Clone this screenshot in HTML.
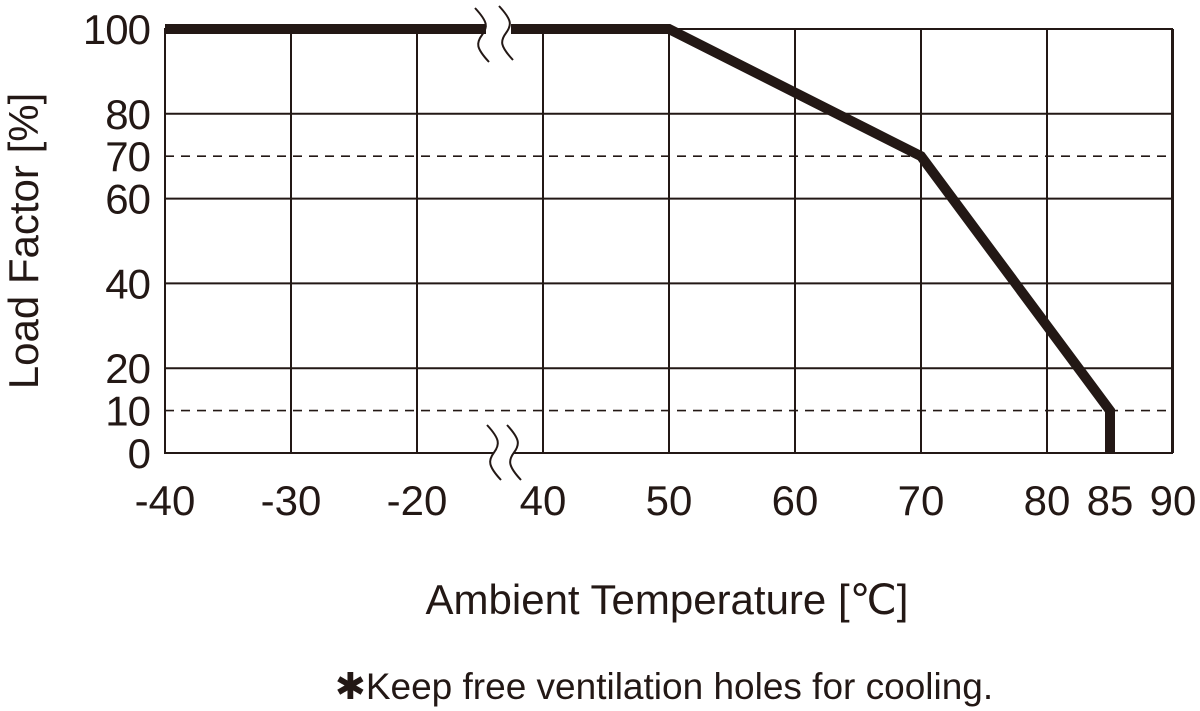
<!DOCTYPE html>
<html><head><meta charset="utf-8"><style>
html,body{margin:0;padding:0;background:#fff;width:1200px;height:711px;overflow:hidden}
text{font-family:"Liberation Sans",Arial,sans-serif;fill:#231815}
</style></head><body>
<svg id="chart" width="1200" height="711" viewBox="0 0 1200 711" xmlns="http://www.w3.org/2000/svg"></svg>
<script>
const xTicks = [-40, -30, -20, 40, 50, 60, 70, 80, 85, 90];
const xGrid = [-40, -30, -20, 40, 50, 60, 70, 80, 90];
const yTicks = [0, 10, 20, 40, 60, 70, 80, 100];
const yGrid = [20, 40, 60, 80];
const yDashed = [10, 70];
const curveTemps = [-40, 50, 70, 85, 85];
const curveLoads = [100, 100, 70, 10, 0];

const C = '#231815';
const NS = 'http://www.w3.org/2000/svg';
const svg = document.getElementById('chart');
const L = 165, R = 1172, T = 29, B = 453;
function xs(t){ return t <= -15 ? L + (t + 40) * 12.6 : 543 + (t - 40) * 12.6; }
function ys(v){ return B - v * (B - T) / 100; }
function mk(tag, attrs, parent){
  const e = document.createElementNS(NS, tag);
  for (const k in attrs) e.setAttribute(k, attrs[k]);
  (parent || svg).appendChild(e);
  return e;
}
const frame = mk('rect', {x:L, y:T, width:R-L, height:B-T, fill:'none', stroke:C, 'stroke-width':2});


xGrid.forEach(t => {
  const l = mk('line', {x1:xs(t), x2:xs(t), y1:T, y2:B, stroke:C, 'stroke-width':2});
  
  
});
yGrid.forEach(v => {
  const l = mk('line', {x1:L, x2:R, y1:ys(v), y2:ys(v), stroke:C, 'stroke-width':2});
  
  
});
yDashed.forEach(v => {
  const l = mk('line', {x1:L, x2:R, y1:ys(v), y2:ys(v), stroke:C, 'stroke-width':1.6, 'stroke-dasharray':'9 7'});
  
  
});
mk('rect', {x:494, y:B-3, width:20, height:6, fill:'#fff'});
const pts = curveTemps.map((t,i) => xs(t) + ',' + ys(curveLoads[i])).join(' ');
const curve = mk('polyline', {points:pts, fill:'none', stroke:C, 'stroke-width':10, 'stroke-linejoin':'miter'});


mk('rect', {x:486, y:T-7, width:25, height:14, fill:'#fff'});
function squig(x, y0, y1, name){
  const m = (y0 + y1) / 2;
  const p = mk('path', {d:`M${x-7},${y0} C${x+6},${y0+14} ${x+6},${m-8} ${x},${m} C${x-6},${m+8} ${x-6},${y1-14} ${x+7},${y1}`, fill:'none', stroke:C, 'stroke-width':2});
  
  
}
squig(482, 8, 62, 'axis-break-mark');
squig(506, 6, 60, 'axis-break-mark');
squig(494, 425, 480, 'axis-break-mark');
squig(514, 425, 480, 'axis-break-mark');
xTicks.forEach(t => {
  const e = mk('text', {x:xs(t), y:515, 'font-size':42, 'text-anchor':'middle'});
  e.textContent = t;
  
  
});
yTicks.forEach(v => {
  const e = mk('text', {x:150, y:ys(v)+15, 'font-size':42, 'text-anchor':'end', 'letter-spacing':-1});
  e.textContent = v;
  
  
});
const yt = mk('text', {x:0, y:0, 'font-size':42, 'text-anchor':'middle', transform:'translate(38,241) rotate(-90)'});
yt.textContent = 'Load Factor [%]';


const xt = mk('text', {x:667, y:614, 'font-size':42, 'text-anchor':'middle'});
xt.textContent = 'Ambient Temperature [℃]';


const note = mk('text', {x:664, y:699, 'font-size':37, 'text-anchor':'middle'});
note.textContent = '✱Keep free ventilation holes for cooling.';


</script>
</body></html>
